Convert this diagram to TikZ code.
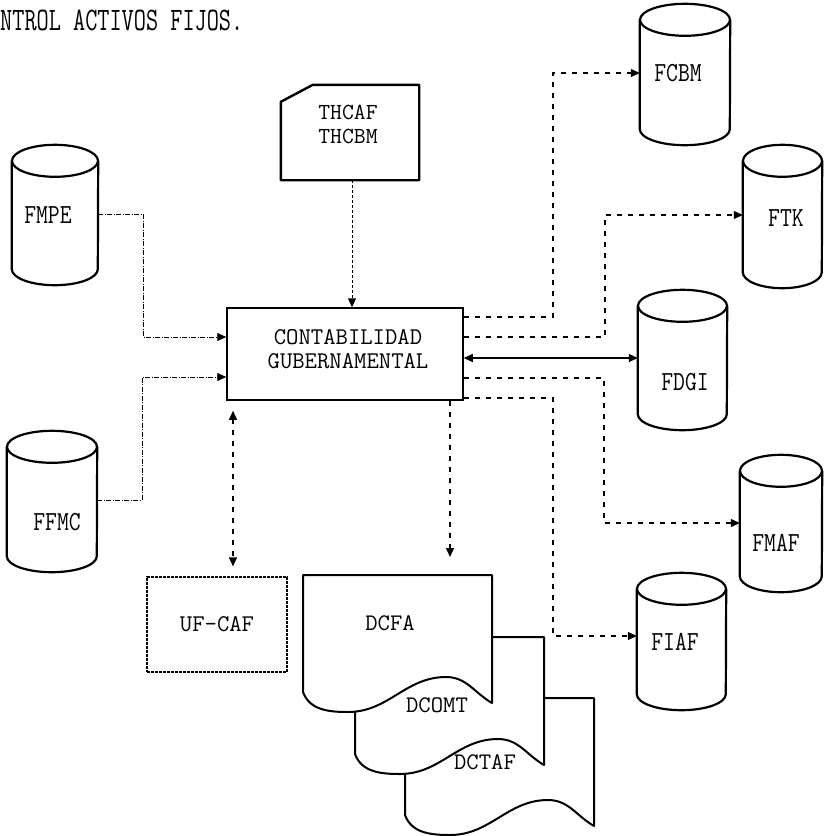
\documentclass[tikz,border=0pt]{standalone}
\usetikzlibrary{arrows.meta,calc}
\tikzset{
  lbl/.style={font=\fontsize{24}{20}\selectfont\ttfamily, inner sep=0pt, align=center, yscale=1.1, transform shape},
  lbltwo/.style={font=\fontsize{23}{20}\selectfont\ttfamily, inner sep=0pt, yscale=1.0, transform shape},
  drumlbl/.style={font=\fontsize{23}{20}\selectfont\ttfamily, inner sep=0pt, yscale=1.2, transform shape},
  titlelbl/.style={font=\fontsize{23.6}{20}\selectfont\ttfamily, inner sep=0pt, yscale=1.39, transform shape},
  drumbox/.style={inner sep=0pt, draw=none},
  drumline/.style={line width=2.2pt, line join=round},
  mainbox/.style={draw, line width=1.5pt, inner sep=0pt},
  ufbox/.style={draw, line width=1.2pt, dash pattern=on 3pt off 1pt, inner sep=0pt, font=\fontsize{24}{20}\selectfont\ttfamily},
  cardline/.style={line width=2.4pt, line join=round},
  docline/.style={line width=2pt, line join=round, fill=white},
  dline/.style={line width=1.2pt, dash pattern=on 5pt off 6pt},
  fline/.style={line width=0.8pt, dash pattern=on 5pt off 1.5pt on 1pt off 1.5pt},
  cline/.style={line width=1pt, dash pattern=on 3pt off 2pt},
  sline/.style={line width=1.4pt},
  tip/.style={-{Triangle[length=9pt,width=8pt]}},
  tips/.style={{Triangle[length=9pt,width=8pt]}-{Triangle[length=9pt,width=8pt]}},
}
% name, cx, cy(screen), w, h, label, lx, lyshift
\newcommand\drumat[8]{%
  \node[drumbox, minimum width=#4pt, minimum height=#5pt] (#1) at (#2,-#3) {};
  \draw[drumline, fill=white] ([yshift=-16pt]#1.north west) -- ([yshift=16pt]#1.south west)
     arc[start angle=180, end angle=360, x radius=#4pt/2, y radius=16pt]
     -- ([yshift=-16pt]#1.north east);
  \draw[drumline] ([yshift=-16pt]#1.north) ellipse[x radius=#4pt/2, y radius=16pt];
  \node[drumlbl] (#1-l) at ([xshift=#7pt, yshift=#8pt]#1.center) {#6};
}
\newcommand\docshape[2]{%
  \begin{scope}[shift={(#1,-#2)}]
    \draw[docline] (0,0) -- (189,0) -- (189,-128)
      to[out=150,in=0] (143,-102)
      to[out=180,in=0] (45,-137)
      to[out=180,in=-70] (0,-117) -- cycle;
  \end{scope}
}
\begin{document}
\begin{tikzpicture}[x=1pt,y=1pt]
\path[use as bounding box] (0,0) rectangle (824,-836);

% title
\node[titlelbl, anchor=base west] (title) at (0,-30) {NTROL ACTIVOS FIJOS.};

% drums
\drumat{fcbm}{685}{74.5}{90}{141}{FCBM}{-7}{1.5}
\drumat{ftk}{782.5}{216.5}{79}{143}{FTK}{3.5}{-1.5}
\drumat{fdgi}{682.5}{360}{89}{140}{FDGI}{2.5}{-22}
\drumat{fmaf}{781}{523.5}{82}{137}{FMAF}{-5}{-19.5}
\drumat{fiaf}{681.5}{641.5}{89}{137}{FIAF}{-6.5}{0}
\drumat{fmpe}{55}{215}{86}{140}{FMPE}{-7}{0}
\drumat{ffmc}{52}{501.5}{90}{141}{FFMC}{5}{-20.5}

% card
\node[drumbox, minimum width=138pt, minimum height=95pt] (card) at (350,-132.5) {};
\draw[cardline] (card.south west) -- ([yshift=-17pt]card.north west)
   -- ([xshift=32pt]card.north west) -- (card.north east) -- (card.south east) -- cycle;
\node[lbltwo, anchor=base] (card-l1) at (348,-119) {THCAF};
\node[lbltwo, anchor=base] (card-l2) at (348,-143) {THCBM};

% main box
\node[mainbox, minimum width=236pt, minimum height=92pt] (cg) at (345,-354) {};
\node[lbltwo, anchor=base, font=\fontsize{24}{20}\selectfont\ttfamily] (cg-l1) at (348,-344) {CONTABILIDAD};
\node[lbltwo, anchor=base, font=\fontsize{24}{20}\selectfont\ttfamily] (cg-l2) at (348,-368) {GUBERNAMENTAL};

% UF-CAF
\node[ufbox, minimum width=140pt, minimum height=95pt] (uf) at (217,-624.5) {UF-CAF};

% documents
\docshape{405}{698}
\docshape{355}{637}
\docshape{303}{575}
\coordinate (d1top) at (450,-575);
\node[lbl, yscale=0.9] (d1) at (390,-623) {DCFA};
\node[lbl, yscale=0.9] (d2) at (437,-705) {DCOMT};
\node[lbl, yscale=0.9] (d3) at (485,-762) {DCTAF};

% connectors left
\draw[fline, tip] (fmpe.east |- 0,-214) -| (143,-337) -- (cg.west |- 0,-337);
\draw[fline, tip] (ffmc.east |- 0,-500) -| (142,-377) -- (cg.west |- 0,-377);

% card to box
\draw[cline, tip] (card.south -| 352,0) -- (cg.north -| 352,0);

% right connectors
\draw[dline, tip] (cg.east |- 0,-317) -| (553,-73) -- (fcbm.west |- 0,-73);
\draw[dline, tip] (cg.east |- 0,-337) -| (605,-215) -- (ftk.west |- 0,-215);
\draw[sline, tips] (cg.east |- 0,-358) -- (fdgi.west |- 0,-358);
\draw[dline, tip] (cg.east |- 0,-378) -| (604,-523) -- (fmaf.west |- 0,-523);
\draw[dline, tip] (cg.east |- 0,-398) -| (553,-636) -- (fiaf.west |- 0,-636);

% bottom connectors
\draw[dline, tips, shorten <=10pt, shorten >=10pt] (cg.south -| 233,0) -- (uf.north -| 233,0);
\draw[dline, tip, shorten >=18pt] (cg.south -| d1top) -- (d1top);
\end{tikzpicture}
\end{document}
